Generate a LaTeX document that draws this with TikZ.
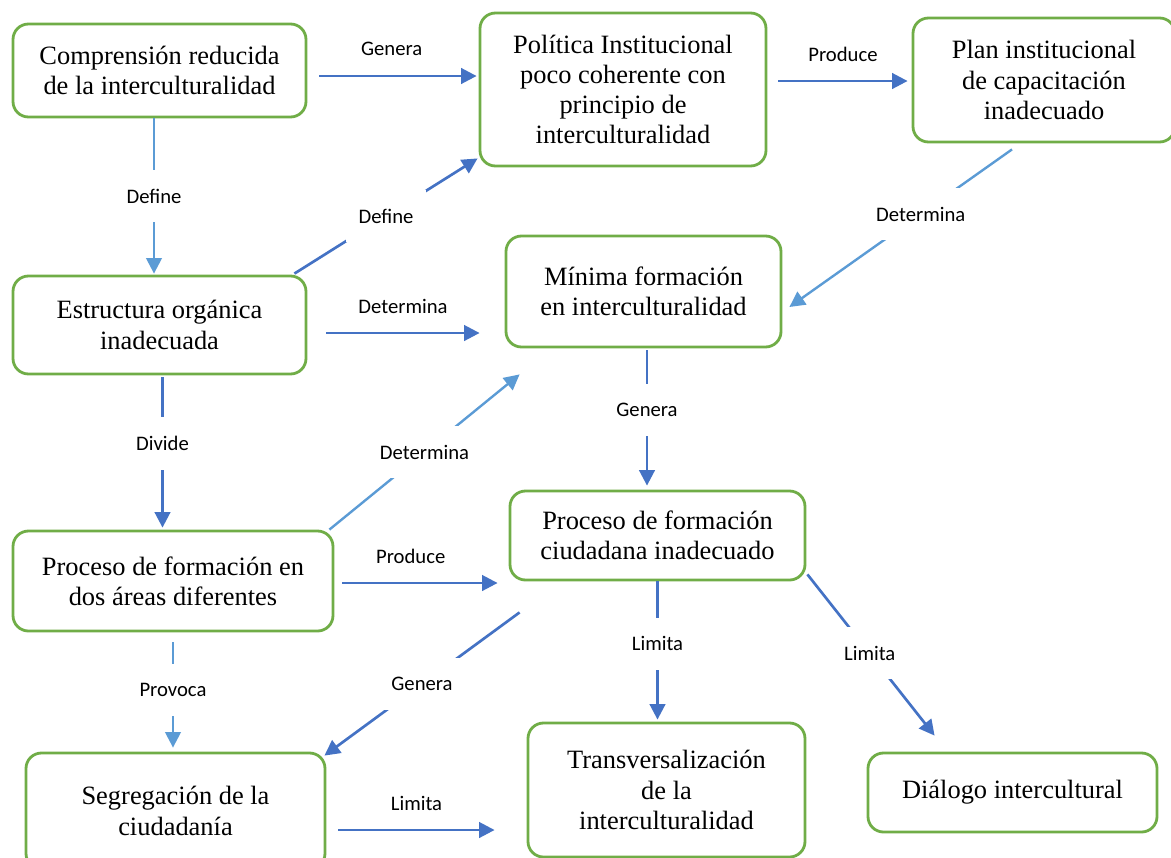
\documentclass[tikz,border=0pt]{standalone}
\usepackage{fontspec}
\newfontfamily\boxserif{Liberation Serif}
\newfontfamily\lblsans{Carlito}
\usetikzlibrary{arrows.meta,calc}
\definecolor{boxgreen}{RGB}{112,173,71}
\definecolor{darkblue}{RGB}{68,114,196}
\definecolor{lightblue}{RGB}{91,155,213}
\newdimen\pxu
\pxu=0.025cm

\tikzset{
	box/.style={draw=boxgreen, line width=2pt, rounded corners=11pt, align=center, inner sep=0pt,
		font=\boxserif\fontsize{18.8}{21.5}\selectfont},
	darr/.style={draw=darkblue, line width=1.9pt, -{Triangle[length=11pt,width=11pt]}},
	larr/.style={draw=lightblue, line width=1.7pt, -{Triangle[length=11pt,width=11pt]}},
	lbl/.style={fill=white, inner xsep=9pt, inner ysep=0pt, minimum height=37pt, text=black,
		font=\lblsans\fontsize{14.7}{17}\selectfont},
	lbltop/.style={inner sep=0pt, yshift=19.2pt, text=black,
		font=\lblsans\fontsize{14.7}{17}\selectfont}
}

\begin{document}
\begin{tikzpicture}[x=0.025cm, y=-0.025cm]
\useasboundingbox (0,0) rectangle (1171,857);

\node[box, minimum width=293\pxu, minimum height=93\pxu] (comp) at (159.5,70.5)
{Comprensión reducida\\de la interculturalidad};
\node[box, minimum width=286\pxu, minimum height=153\pxu] (pol) at (623,89.5)
{Política Institucional\\poco coherente con\\principio de\\interculturalidad};
\node[box, minimum width=262\pxu, minimum height=124\pxu] (plan) at (1044,80)
{Plan institucional\\de capacitación\\inadecuado};
\node[box, minimum width=293\pxu, minimum height=98\pxu] (est) at (159.5,325)
{Estructura orgánica\\inadecuada};
\node[box, minimum width=275\pxu, minimum height=111\pxu] (min) at (643.5,291.5)
{Mínima formación\\en interculturalidad};
\node[box, minimum width=320\pxu, minimum height=100\pxu] (proc) at (173,581)
{Proceso de formación en\\dos áreas diferentes};
\node[box, minimum width=295\pxu, minimum height=89\pxu] (ciud) at (657.5,535.5)
{Proceso de formación\\ciudadana inadecuado};
\node[box, minimum width=299\pxu, minimum height=116\pxu] (seg) at (175.5,811)
{Segregación de la\\ciudadanía};
\node[box, minimum width=277\pxu, minimum height=134\pxu] (trans) at (666.5,790)
{Transversalización\\de la\\interculturalidad};
\node[box, minimum width=289\pxu, minimum height=79\pxu] (dial) at (1012.5,792.5)
{Diálogo intercultural};

\draw[darr] ($(comp.east)+(12,5.5)$) -- ($(comp.east -| pol.west)+(-2,5.5)$)
node[pos=0.46, lbltop] {Genera};
\draw[darr] ($(pol.east |- plan.west)+(11,1)$) -- ($(plan.west)+(-4,1)$)
node[midway, lbltop] {Produce};
\draw[darr] ($(est.east)+(19,8)$) -- ($(est.east -| min.west)+(-25,8)$)
node[midway, lbltop] {Determina};
\draw[darr] ($(proc.east)+(8,2)$) -- ($(proc.east -| ciud.west)+(-11,2)$)
node[pos=0.44, lbltop] {Produce};
\draw[darr] ($(seg.east)+(12,19)$) -- ($(seg.east -| trans.west)+(-32,19)$)
node[midway, lbltop] {Limita};

\draw[larr] ($(comp.south)+(-5.5,0)$) -- ($(est.north)+(-5.5,-1)$)
node[midway, lbl] {Define};
\draw[darr] ($(est.south)+(3,2)$) -- ($(est.south |- proc.north)+(3,-2)$)
node[pos=0.44, lbl] {Divide};
\draw[larr] ($(proc.south)+(0,10)$) -- ($(proc.south |- seg.north)+(0,-4)$)
node[pos=0.45, lbl] {Provoca};
\draw[darr] ($(min.south)+(3.5,2)$) -- ($(min.south |- ciud.north)+(3.5,-4)$)
node[pos=0.44, lbl] {Genera};
\draw[darr] (ciud.south) -- ($(ciud.south |- trans.north)+(0,-2)$)
node[pos=0.45, lbl] {Limita};

\draw[darr] ($(est.north east)+(-13,-1)$) -- ($(pol.south west)+(-1,-9)$)
node[midway, lbl] {Define};
\draw[larr] ($(plan.south)+(-32,6)$) -- ($(min.east)+(7,15.5)$)
node[pos=0.41, lbl] {Determina};
\draw[larr] ($(proc.north east)+(-5,0)$) -- ($(min.south west)+(15,26)$)
node[midway, lbl] {Determina};
\draw[darr] ($(ciud.south west)+(11,31)$) -- ($(seg.north east)+(-2,4)$)
node[midway, lbl] {Genera};
\draw[darr] ($(ciud.south east)+(1,-7)$) -- ($(dial.north west)+(68,-16)$)
node[pos=0.49, lbl] {Limita};

\end{tikzpicture}
\end{document}
